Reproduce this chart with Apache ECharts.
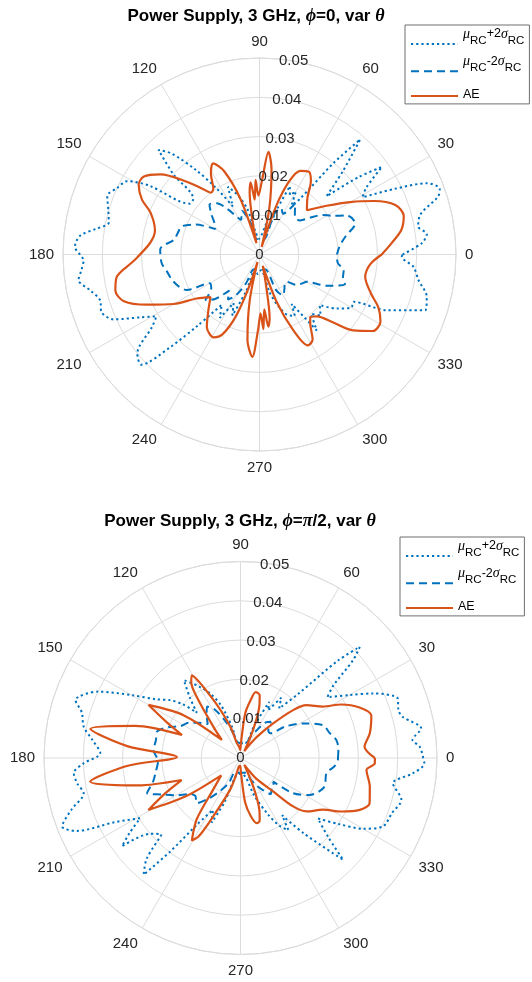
<!DOCTYPE html>
<html>
<head>
<meta charset="utf-8">
<script src="https://cdn.jsdelivr.net/npm/echarts@6/dist/echarts.min.js"></script>
<style>
  html, body { margin: 0; padding: 0; background: #ffffff; }
  #chart { width: 532px; height: 982px; }
</style>
</head>
<body>
<div id="chart"></div>
<script>
// Radiated field patterns of a power supply at 3 GHz, sampled as [theta (deg), value].

// phi = 0, var theta
const phi0Upper = [
  [0, 0.0364], [4, 0.0414], [7, 0.0429], [10, 0.0410], [14, 0.0422], [18, 0.0478], [20, 0.0488],
  [23, 0.0464], [26, 0.0380], [29, 0.0300], [32, 0.0320], [35.6, 0.0383], [38, 0.0320], [41, 0.0226],
  [45, 0.0300], [48.8, 0.0389], [51, 0.0300], [54, 0.0175], [57, 0.0150], [60, 0.0185], [63, 0.0170],
  [66, 0.0190], [69, 0.0120], [73, 0.0040], [78, 0.0080], [84, 0.0050], [92, 0.0040], [100, 0.0060],
  [105, 0.0120], [110, 0.0160], [115, 0.0190], [119, 0.0140], [123, 0.0200], [127, 0.0270],
  [131, 0.0340], [134, 0.0370], [137, 0.0300], [140, 0.0220], [144, 0.0220], [148, 0.0330],
  [151, 0.0385], [155, 0.0400], [159, 0.0415], [164, 0.0400], [168, 0.0392], [171, 0.0420],
  [174, 0.0459], [177.6, 0.0470], [182, 0.0448], [185, 0.0455], [188, 0.0465], [192, 0.0440],
  [196, 0.0422], [200, 0.0428], [204, 0.0406], [208, 0.0340], [211, 0.0306], [214, 0.0330],
  [219, 0.0400], [223, 0.0411], [226, 0.0330], [229, 0.0240], [233, 0.0160], [238, 0.0190],
  [242, 0.0140], [246, 0.0170], [250, 0.0100], [255, 0.0040], [265, 0.0050], [275, 0.0040],
  [285, 0.0100], [290, 0.0140], [295, 0.0170], [300, 0.0180], [303, 0.0150], [307, 0.0242],
  [311, 0.0200], [315, 0.0220], [320, 0.0200], [325, 0.0240], [330, 0.0270], [333.3, 0.0268],
  [336.4, 0.0354], [341.4, 0.0445], [345.8, 0.0439], [350.8, 0.0410], [355.4, 0.0393],
  [359.1, 0.0362], [360, 0.0364]
];
const phi0Lower = [
  [0, 0.0197], [6, 0.0205], [11.7, 0.0223], [18, 0.0256], [24, 0.0244], [28, 0.0210], [32, 0.0190],
  [36, 0.0160], [40, 0.0135], [45, 0.0130], [50, 0.0140], [55, 0.0160], [60, 0.0120], [65, 0.0130],
  [70, 0.0110], [75, 0.0040], [90, 0.0040], [100, 0.0040], [105, 0.0080], [112, 0.0120],
  [118, 0.0100], [125, 0.0140], [130, 0.0170], [135, 0.0180], [140, 0.0160], [145, 0.0140],
  [150, 0.0130], [155, 0.0180], [160, 0.0210], [165, 0.0215], [170, 0.0220], [177, 0.0253],
  [185, 0.0250], [190, 0.0240], [196, 0.0232], [202, 0.0220], [206, 0.0206], [210, 0.0146],
  [215, 0.0150], [220, 0.0180], [225, 0.0160], [230, 0.0120], [235, 0.0140], [240, 0.0120],
  [245, 0.0080], [250, 0.0040], [270, 0.0040], [290, 0.0040], [295, 0.0100], [300, 0.0120],
  [305, 0.0110], [310, 0.0100], [315, 0.0098], [320, 0.0120], [325, 0.0130], [330, 0.0139],
  [335, 0.0188], [341, 0.0230], [345, 0.0220], [349.4, 0.0218], [354, 0.0200], [360, 0.0197]
];
const phi0AE = [
  [0, 0.0311], [5, 0.0338], [10, 0.0367], [15, 0.0380], [20, 0.0368], [25, 0.0322], [30, 0.0267],
  [36, 0.0211], [43, 0.0165], [50, 0.0190], [55, 0.0228], [59, 0.0245], [64, 0.0237], [68, 0.0200],
  [71, 0.0130], [74, 0.0020], [78, 0.0120], [82, 0.0220], [85, 0.0262], [88, 0.0190], [91, 0.0150],
  [93, 0.0190], [95, 0.0140], [97, 0.0185], [99, 0.0160], [102, 0.0080], [105, 0.0030],
  [109, 0.0150], [113, 0.0230], [117, 0.0260], [121, 0.0240], [125, 0.0205], [128, 0.0200],
  [131, 0.0222], [135, 0.0262], [141, 0.0324], [146, 0.0355], [150, 0.0355], [155, 0.0330],
  [159, 0.0297], [167, 0.0273], [174, 0.0280], [183, 0.0321], [189, 0.0368], [194, 0.0378],
  [199, 0.0365], [204, 0.0314], [210, 0.0252], [215, 0.0195], [221, 0.0165], [228, 0.0195],
  [234, 0.0228], [241, 0.0241], [245, 0.0225], [249, 0.0170], [252, 0.0090], [255, 0.0020],
  [258, 0.0120], [262, 0.0220], [266, 0.0261], [269, 0.0190], [271, 0.0150], [273, 0.0190],
  [275, 0.0140], [277, 0.0185], [279, 0.0165], [282, 0.0080], [286, 0.0030], [290, 0.0130],
  [294, 0.0210], [298, 0.0262], [302, 0.0255], [306, 0.0220], [309, 0.0205], [313, 0.0215],
  [317, 0.0251], [321, 0.0307], [326, 0.0348], [331, 0.0352], [336, 0.0331], [341, 0.0299],
  [348, 0.0275], [355, 0.0283], [360, 0.0311]
];

// phi = pi/2, var theta
const phi90Upper = [
  [0, 0.0465], [3.6, 0.0457], [6, 0.0440], [9.3, 0.0466], [14.2, 0.0426], [17, 0.0420],
  [20.7, 0.0428], [26, 0.0375], [30, 0.0320], [35, 0.0270], [38, 0.0300], [41, 0.0380],
  [43, 0.0415], [45, 0.0350], [48, 0.0220], [52, 0.0160], [56, 0.0185], [60, 0.0140], [63, 0.0160],
  [67, 0.0090], [72, 0.0040], [85, 0.0040], [100, 0.0040], [105, 0.0080], [110, 0.0140],
  [115, 0.0180], [120, 0.0210], [126, 0.0245], [130, 0.0200], [134, 0.0160], [137, 0.0200],
  [140.6, 0.0232], [145, 0.0260], [150, 0.0320], [155, 0.0400], [160.7, 0.0445], [164, 0.0420],
  [168.7, 0.0407], [173, 0.0380], [178, 0.0357], [182, 0.0400], [185.2, 0.0426], [189, 0.0420],
  [192.7, 0.0409], [197, 0.0450], [201, 0.0486], [204, 0.0456], [207, 0.0360], [211, 0.0298],
  [214, 0.0340], [216.7, 0.0376], [220, 0.0300], [224, 0.0280], [227, 0.0350], [230.3, 0.0386],
  [233, 0.0300], [237, 0.0200], [242, 0.0150], [246, 0.0180], [250, 0.0120], [255, 0.0050],
  [270, 0.0040], [285, 0.0050], [290, 0.0100], [296, 0.0160], [300, 0.0200], [303.6, 0.0220],
  [306, 0.0180], [310, 0.0250], [315.2, 0.0368], [318, 0.0300], [322, 0.0250], [326, 0.0300],
  [330, 0.0360], [334.3, 0.0402], [340, 0.0410], [345.4, 0.0423], [350.6, 0.0393], [354.9, 0.0440],
  [358.3, 0.0468], [360, 0.0465]
];
const phi90Lower = [
  [0, 0.0248], [5, 0.0250], [10.6, 0.0248], [16, 0.0235], [21.7, 0.0226], [28.9, 0.0182],
  [35, 0.0140], [39.9, 0.0098], [45, 0.0100], [50, 0.0120], [55, 0.0110], [60, 0.0080],
  [65, 0.0060], [70, 0.0040], [100, 0.0040], [105, 0.0060], [112, 0.0100], [118, 0.0140],
  [123, 0.0156], [128, 0.0140], [134, 0.0120], [140, 0.0140], [146, 0.0160], [152, 0.0173],
  [157, 0.0200], [162.6, 0.0223], [168, 0.0220], [174.8, 0.0222], [182, 0.0210], [190.2, 0.0220],
  [195, 0.0230], [200.6, 0.0254], [205, 0.0220], [210, 0.0190], [215, 0.0160], [220, 0.0150],
  [226, 0.0160], [232, 0.0130], [238, 0.0100], [245, 0.0070], [250, 0.0040], [290, 0.0040],
  [295, 0.0060], [300, 0.0080], [305, 0.0100], [310, 0.0120], [316, 0.0110], [320, 0.0110],
  [324.2, 0.0103], [326.2, 0.0161], [332, 0.0200], [341.3, 0.0226], [349.9, 0.0222],
  [355, 0.0240], [358.8, 0.0248], [360, 0.0248]
];
const phi90AE = [
  [0, 0.0342], [5.2, 0.0317], [10.8, 0.0335], [18, 0.0350], [23, 0.0329], [28, 0.0290],
  [32, 0.0247], [38.7, 0.0215], [42.3, 0.0181], [46.6, 0.0121], [52, 0.0070], [56, 0.0040],
  [61, 0.0020], [66, 0.0080], [70, 0.0140], [73, 0.0167], [77, 0.0172], [80, 0.0150], [84, 0.0114],
  [88, 0.0040], [92, 0.0020], [98, 0.0030], [104, 0.0040], [108, 0.0084], [115, 0.0163],
  [120.5, 0.0244], [123, 0.0230], [125.6, 0.0191], [131, 0.0105], [136, 0.0066], [143, 0.0180],
  [150, 0.0270], [154, 0.0210], [158.6, 0.0160], [163, 0.0280], [169, 0.0389], [174, 0.0290],
  [179, 0.0162], [184, 0.0290], [189, 0.0387], [195, 0.0270], [200.5, 0.0160], [205, 0.0210],
  [209.4, 0.0269], [215, 0.0170], [222, 0.0066], [229, 0.0105], [234.4, 0.0191], [239.5, 0.0244],
  [242, 0.0225], [245, 0.0163], [252, 0.0084], [256, 0.0040], [262, 0.0020], [268, 0.0020],
  [272, 0.0040], [276, 0.0114], [280, 0.0150], [284, 0.0171], [287, 0.0167], [290, 0.0140],
  [294, 0.0080], [299, 0.0020], [304, 0.0040], [308, 0.0070], [314.3, 0.0119], [317.4, 0.0182],
  [321, 0.0216], [328, 0.0248], [332, 0.0290], [336.5, 0.0331], [340.7, 0.0348], [347.5, 0.0337],
  [354.6, 0.0322], [357.7, 0.0342], [360, 0.0342]
];

const angleTicks = [0, 30, 60, 90, 120, 150, 180, 210, 240, 270, 300, 330];
const radiusTicks = [0, 0.01, 0.02, 0.03, 0.04, 0.05];

const seriesNames = ['mu+2sigma', 'mu-2sigma', 'AE'];
const legendText = {
  'mu+2sigma': '{m|\u03bc}{s|RC}{n|+2}{g|\u03c3}{s|RC}',
  'mu-2sigma': '{m|\u03bc}{s|RC}{n|-2}{g|\u03c3}{s|RC}',
  'AE': '{a|AE}'
};

const BLUE = '#0072BD';
const ORANGE = '#D95319';
const GRID = '#dcdcdc';
const INK = '#262626';
const SANS = '"Liberation Sans", Arial, Helvetica, sans-serif';
const SERIF = '"Liberation Serif", "DejaVu Serif", serif';

const plots = [
  { center: [259.5, 254.5], upper: phi0Upper, lower: phi0Lower, ae: phi0AE,
    title: '{t|Power Supply, 3 GHz, }{g|\u03d5}{t|=0, var }{g|\u03b8}', titleX: 251, titleTop: 2,
    legendLeft: 405, legendTop: 25 },
  { center: [240.5, 758], upper: phi90Upper, lower: phi90Lower, ae: phi90AE,
    title: '{t|Power Supply, 3 GHz, }{g|\u03d5}{t|=}{g|\u03c0}{t|/2, var }{g|\u03b8}', titleX: 235, titleTop: 507,
    legendLeft: 400, legendTop: 537 }
];
const RADIUS = 196.5;

const polar = [], angleAxis = [], radiusAxis = [], series = [], title = [], legend = [];

// legend rows: the tall line height of the leading glyph puts the base text above
// the icon line and the subscripts level with it
const richLegend = {
  m: { fontSize: 14, fontStyle: 'italic', fontFamily: SERIF, color: '#000', lineHeight: 33, verticalAlign: 'top' },
  n: { fontSize: 12.5, fontFamily: SANS, color: '#000', lineHeight: 13, verticalAlign: 'top' },
  a: { fontSize: 12.5, fontFamily: SANS, color: '#000', lineHeight: 28.2, padding: [6, 0, 0, 0], verticalAlign: 'top' },
  g: { fontSize: 14, fontStyle: 'italic', fontFamily: SERIF, color: '#000', lineHeight: 13, verticalAlign: 'top' },
  s: { fontSize: 11.5, fontFamily: SANS, color: '#000', lineHeight: 12, padding: [7, 0, 0, 0], verticalAlign: 'top' }
};

plots.forEach((p) => {
  const gridIdx = polar.length;
  // grid polar: spokes, circles, angle labels
  polar.push({ center: p.center, radius: RADIUS });
  angleAxis.push({
    polarIndex: gridIdx, type: 'value', min: 0, max: 360, interval: 30,
    startAngle: 0, clockwise: false,
    axisLine: { show: true, lineStyle: { color: GRID, width: 1 } },
    axisTick: { show: false },
    axisLabel: {
      show: true, margin: 9, color: INK, fontSize: 15, fontFamily: SANS,
      formatter: v => (angleTicks.indexOf(v) >= 0 ? String(v) : '')
    },
    splitLine: { show: true, lineStyle: { color: GRID, width: 1 } }
  });
  radiusAxis.push({
    polarIndex: gridIdx, type: 'value', min: 0, max: 0.05, interval: 0.01,
    axisLine: { show: false }, axisTick: { show: false }, axisLabel: { show: false },
    splitLine: { show: true, lineStyle: { color: GRID, width: 1 } }
  });

  // label polar: radius tick labels along the 80 degree direction
  const labelIdx = polar.length;
  polar.push({ center: p.center, radius: RADIUS });
  angleAxis.push({
    polarIndex: labelIdx, type: 'value', min: 0, max: 360, startAngle: 80,
    show: false
  });
  radiusAxis.push({
    polarIndex: labelIdx, type: 'value', min: 0, max: 0.05, interval: 0.01,
    axisLine: { show: false }, axisTick: { show: false }, splitLine: { show: false },
    axisLabel: {
      show: true, margin: 0, rotate: 0, align: 'center', verticalAlign: 'middle',
      color: INK, fontSize: 15, fontFamily: SANS, showMinLabel: true, showMaxLabel: true,
      formatter: v => {
        const t = radiusTicks.find(r => Math.abs(r - v) < 1e-9);
        return t === undefined ? '' : String(t);
      }
    },
    z: 10
  });

  const styles = [
    { data: p.upper, line: { color: BLUE, width: 2, type: [2.2, 3], cap: 'butt' } },
    { data: p.lower, line: { color: BLUE, width: 2, type: [8, 5], cap: 'butt' } },
    { data: p.ae, line: { color: ORANGE, width: 2.2, type: 'solid' } }
  ];
  styles.forEach((s, i) => {
    series.push({
      name: seriesNames[i], type: 'line', coordinateSystem: 'polar', polarIndex: gridIdx,
      data: s.data.map(d => [d[1], d[0]]),
      symbol: 'none', smooth: 0.3, silent: true, clip: false,
      lineStyle: s.line, itemStyle: { color: s.line.color }, z: 3 + i
    });
  });

  title.push({
    text: p.title, left: p.titleX, top: p.titleTop, textAlign: 'center',
    textStyle: {
      rich: {
        t: { fontSize: 17, fontWeight: 'bold', color: '#000', fontFamily: SANS },
        g: { fontSize: 18, fontStyle: 'italic', fontWeight: 'bold', color: '#000', fontFamily: SERIF }
      }
    }
  });

  legend.push({
    data: seriesNames, orient: 'vertical', left: p.legendLeft, top: p.legendTop,
    itemWidth: 47, itemHeight: 10, itemGap: 6.7, selectedMode: false,
    padding: [2.5, 5, 3, 5],
    itemStyle: { opacity: 0 },
    backgroundColor: '#ffffff', borderColor: '#6e6e6e', borderWidth: 1, borderRadius: 0,
    formatter: name => legendText[name],
    textStyle: { color: '#000', rich: richLegend }
  });
});

const chart = echarts.init(document.getElementById('chart'), null, { renderer: 'canvas' });
chart.setOption({
  animation: false,
  backgroundColor: '#ffffff',
  title, legend, polar, angleAxis, radiusAxis, series
});
</script>
</body>
</html>
